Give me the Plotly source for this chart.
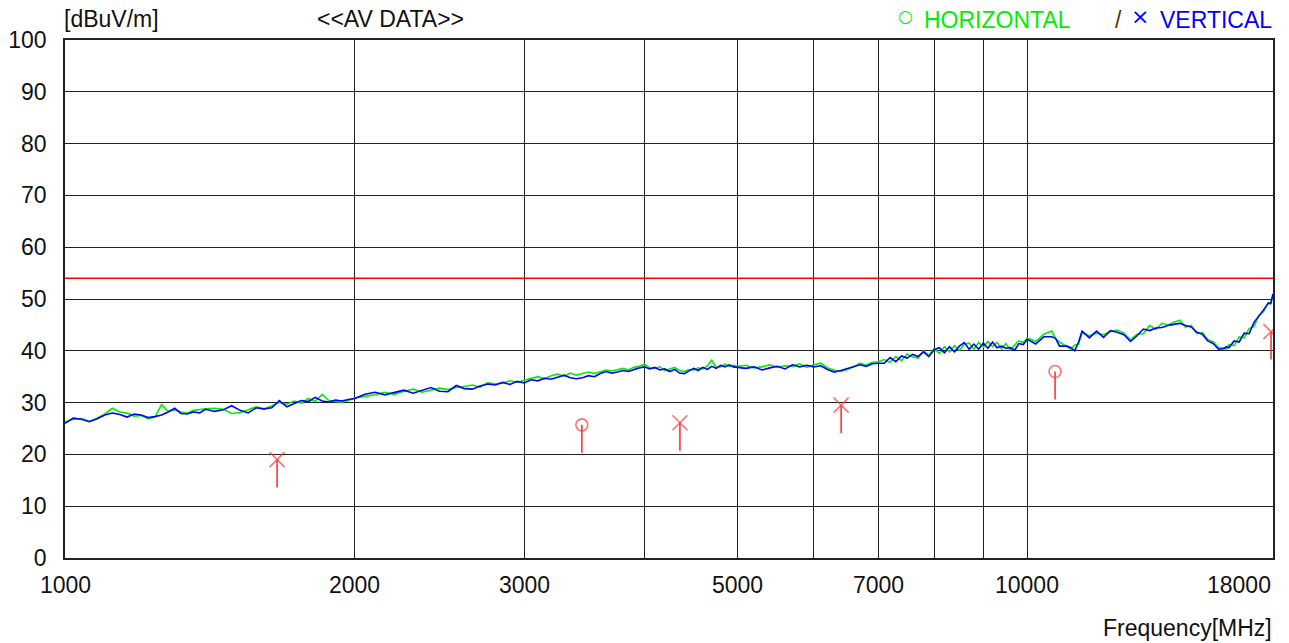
import math
import plotly.graph_objects as go

# ---------------- data ----------------
freq_mhz = [1000, 1020, 1040, 1060, 1080, 1100, 1120, 1140, 1160, 1180, 1200, 1220, 1240, 1260, 1280,
            1300, 1320, 1340, 1360, 1380, 1400, 1430, 1460, 1490, 1520, 1550, 1580, 1610, 1640, 1670,
            1700, 1730, 1760, 1790, 1820, 1850, 1880, 1910, 1940, 1970, 2000,
            2050, 2100, 2150, 2200, 2250, 2300, 2350, 2400, 2450, 2500, 2550, 2600, 2650, 2700, 2750,
            2800, 2850, 2900, 2950, 3000,
            3050, 3100, 3150, 3200, 3250, 3300, 3350, 3400, 3450, 3500, 3550, 3600, 3650, 3700, 3750,
            3800, 3850, 3900, 3950, 4000, 4050, 4100, 4150, 4200, 4250, 4300, 4350, 4400, 4450, 4500,
            4550, 4600, 4650, 4700, 4750, 4800, 4850, 4900, 4950, 5000,
            5100, 5200, 5300, 5400, 5500, 5600, 5700, 5800, 5900, 6000, 6100, 6200, 6300, 6400, 6500,
            6600, 6700, 6800, 6900, 7000,
            7100, 7200, 7300, 7400, 7500, 7600, 7700, 7800, 7900, 8000, 8100, 8200, 8300, 8400, 8500,
            8600, 8700, 8800, 8900, 9000, 9100, 9200, 9300, 9400, 9500, 9600, 9700, 9800, 9900, 10000,
            10200, 10400, 10600, 10700, 10800, 11000, 11100, 11200, 11300, 11400, 11600, 11800, 12000,
            12200, 12400, 12600, 12800, 13000, 13200, 13400, 13600, 13800, 14000, 14200, 14400, 14600,
            14800, 15000, 15200, 15400, 15600, 15800, 16000, 16100, 16200, 16400, 16600, 16800, 17000,
            17200, 17400, 17600, 17800, 17900, 18000]

horizontal_dbuv = [26.3, 26.8, 26.9, 26.4, 27.0, 27.8, 28.9, 28.2, 28.0, 27.4, 27.5, 26.9, 27.2, 29.6, 28.3,
                   28.6, 28.2, 28.0, 28.5, 28.7, 28.8, 28.9, 28.7, 27.9, 28.1, 28.6, 29.2, 28.7, 29.4, 30.0,
                   29.7, 30.3, 29.9, 30.8, 30.2, 31.6, 30.4, 30.3, 30.1, 30.4, 30.9,
                   31.2, 31.5, 32.0, 31.6, 32.2, 32.6, 32.0, 32.4, 32.8, 32.5, 32.9, 33.1, 33.4, 33.0, 33.8,
                   33.6, 33.8, 34.2, 33.9, 34.3,
                   34.6, 35.0, 34.6, 35.2, 35.5, 35.1, 35.7, 35.3, 35.6, 35.9, 35.6, 36.0, 36.3, 36.1, 36.4,
                   36.6, 36.3, 36.8, 37.0, 37.4, 36.7, 36.6, 36.9, 36.2, 36.5, 36.8, 36.2, 36.0, 36.4, 36.3,
                   36.7, 36.5, 37.1, 38.2, 36.8, 36.9, 37.4, 37.0, 37.2, 37.0,
                   37.2, 36.7, 36.9, 37.3, 36.8, 37.1, 37.0, 37.5, 36.8, 37.3, 37.6, 36.7, 36.3, 36.0, 36.4,
                   36.9, 37.6, 37.2, 37.8, 37.9,
                   38.3, 37.8, 38.9, 38.1, 39.4, 38.8, 38.6, 40.0, 39.1, 40.4, 39.5, 40.8, 39.8, 41.0, 40.1,
                   41.2, 41.5, 40.3, 41.6, 40.7, 41.8, 40.8, 41.6, 40.4, 41.4, 40.2, 41.1, 41.9, 41.6, 42.5,
                   41.8, 43.2, 43.8, 42.3, 41.7, 40.7, 40.3, 41.1, 41.3, 43.5, 42.9, 43.4, 43.1,
                   43.7, 44.0, 43.4, 42.1, 43.2, 43.3, 44.9, 44.1, 45.3, 45.0, 45.5, 45.9, 44.6,
                   44.9, 43.3, 43.5, 42.2, 41.7, 40.6, 40.6, 40.3, 41.2, 41.0, 42.7, 42.5, 44.3,
                   44.7, 46.8, 47.6, 49.3, 49.1, 50.6]

vertical_dbuv = [26.0, 27.0, 26.8, 26.3, 26.9, 27.6, 28.0, 27.7, 27.2, 27.8, 27.6, 27.1, 27.3, 27.6, 28.2,
                 28.9, 27.9, 27.8, 28.2, 28.0, 28.7, 28.3, 28.6, 29.4, 28.5, 28.0, 29.0, 28.8, 29.0, 30.4,
                 29.2, 29.8, 30.4, 30.2, 31.0, 30.3, 30.1, 30.5, 30.3, 30.6, 30.8,
                 31.6, 32.0, 31.5, 31.9, 32.4, 31.8, 32.3, 32.9, 32.2, 32.1, 33.3, 32.7, 32.6, 33.2, 33.6,
                 33.4, 33.9, 33.5, 34.1, 33.8,
                 34.4, 34.2, 34.7, 34.5, 34.9, 35.3, 34.8, 34.6, 34.8, 35.2, 35.0, 35.6, 36.0, 35.7, 35.9,
                 36.2, 36.0, 36.4, 36.7, 36.9, 36.5, 36.8, 36.3, 36.5, 36.0, 36.4, 35.7, 35.6, 36.1, 36.6,
                 36.2, 36.8, 36.4, 37.0, 36.6, 37.2, 36.9, 37.3, 36.9, 36.8,
                 36.6, 36.9, 36.3, 36.7, 37.0, 36.5, 37.3, 36.9, 37.2, 36.9, 37.1, 36.4, 35.9, 36.2, 36.6,
                 37.0, 37.3, 37.0, 37.5, 37.6,
                 37.6, 38.7, 37.9, 39.0, 38.6, 39.3, 38.9, 39.8, 38.9, 40.2, 40.6, 39.6, 40.8, 39.8, 40.9,
                 41.6, 40.3, 41.3, 40.3, 41.5, 40.5, 41.7, 40.6, 40.9, 40.5, 40.6, 40.1, 41.4, 41.2, 42.2,
                 41.3, 42.7, 42.7, 42.4, 40.9, 40.9, 40.6, 40.0, 41.6, 43.8, 42.5, 43.8, 42.6,
                 43.9, 43.6, 43.1, 41.8, 42.9, 44.2, 43.9, 44.4, 44.5, 44.9, 45.1, 45.3, 44.9,
                 44.6, 43.6, 43.2, 41.9, 41.4, 40.3, 40.4, 40.8, 40.6, 41.9, 41.7, 43.4, 43.3,
                 45.5, 46.6, 47.9, 49.2, 49.1, 51.0]

limit_dbuv = 54.0

peak_freq_mhz = [1661, 3444, 4355, 6405, 10686, 17915]
peak_dbuv = [19.0, 25.7, 26.1, 29.5, 36.0, 43.7]
peak_pol = ["V", "H", "V", "V", "H", "V"]
peak_stem = 5.4

x_tick_vals = [1000, 2000, 3000, 5000, 7000, 10000, 18000]
x_tick_text = ["1000", "2000", "3000", "5000", "7000", "10000", "18000"]
x_grid_vals = [1000, 2000, 3000, 4000, 5000, 6000, 7000, 8000, 9000, 10000, 18000]
y_tick_vals = [0, 10, 20, 30, 40, 50, 60, 70, 80, 90, 100]

# ---------------- figure ----------------
FONT = "Liberation Sans, Arial, sans-serif"
FS = 23
GREEN = "#00ee00"
BLUE = "#0000ff"
RED = "#ff0000"

W, H = 1289, 643
ML, MR, MT, MB = 65, 16, 40, 85
PW, PH = W - ML - MR, H - MT - MB


def px_x(px):
    return (px - ML) / PW


def px_y(py):
    return (H - MB - py) / PH


fig = go.Figure()

fig.add_trace(go.Scatter(x=[freq_mhz[0], freq_mhz[-1]], y=[limit_dbuv, limit_dbuv], mode="lines",
                         line=dict(color=RED, width=1.5), hoverinfo="skip", showlegend=False))

fig.add_trace(go.Scatter(x=freq_mhz, y=horizontal_dbuv, mode="lines",
                         line=dict(color=GREEN, width=1.6), name="HORIZONTAL", showlegend=False))
fig.add_trace(go.Scatter(x=freq_mhz, y=vertical_dbuv, mode="lines",
                         line=dict(color=BLUE, width=1.6), name="VERTICAL", showlegend=False))

# stems
sx, sy = [], []
for f, v in zip(peak_freq_mhz, peak_dbuv):
    sx += [f, f, None]
    sy += [v, v - peak_stem, None]
fig.add_trace(go.Scatter(x=sx, y=sy, mode="lines", line=dict(color="#ff3333", width=1.6),
                         hoverinfo="skip", showlegend=False))

symbols = ["circle-open" if p == "H" else "x-thin-open" for p in peak_pol]
sizes = [12 if p == "H" else 15 for p in peak_pol]
fig.add_trace(go.Scatter(x=peak_freq_mhz, y=peak_dbuv, mode="markers",
                         marker=dict(symbol=symbols, size=sizes, color="#ff3333",
                                     line=dict(color="#ff3333", width=1.6)),
                         showlegend=False))

annotations = []
for v, t in zip(x_tick_vals, x_tick_text):
    anchor = "right" if v == x_tick_vals[-1] else "center"
    annotations.append(dict(x=math.log10(v), xref="x", y=0, yref="paper", yshift=-27,
                            text=t, showarrow=False, xanchor=anchor, yanchor="middle",
                            font=dict(family=FONT, size=FS, color="#111")))

annotations += [
    dict(x=px_x(1274), y=px_y(628), xref="paper", yref="paper", text="Frequency[MHz]",
         showarrow=False, xanchor="right", yanchor="middle", font=dict(family=FONT, size=FS, color="#111")),
    dict(x=px_x(62), y=px_y(19), xref="paper", yref="paper", text="[dBuV/m]",
         showarrow=False, xanchor="left", yanchor="middle", font=dict(family=FONT, size=FS, color="#111")),
    dict(x=px_x(390), y=px_y(19), xref="paper", yref="paper", text="&lt;&lt;AV DATA&gt;&gt;",
         showarrow=False, xanchor="center", yanchor="middle", font=dict(family=FONT, size=FS, color="#111")),
    dict(x=px_x(905), y=px_y(16), xref="paper", yref="paper", text="○",
         showarrow=False, xanchor="center", yanchor="middle", font=dict(family="DejaVu Sans", size=17, color=GREEN)),
    dict(x=px_x(922), y=px_y(20), xref="paper", yref="paper", text="HORIZONTAL",
         showarrow=False, xanchor="left", yanchor="middle", font=dict(family=FONT, size=FS, color=GREEN)),
    dict(x=px_x(1118), y=px_y(20), xref="paper", yref="paper", text="/",
         showarrow=False, xanchor="center", yanchor="middle", font=dict(family=FONT, size=FS, color="#553300")),
    dict(x=px_x(1140), y=px_y(16), xref="paper", yref="paper", text="×",
         showarrow=False, xanchor="center", yanchor="middle", font=dict(family="DejaVu Sans", size=22, color=BLUE)),
    dict(x=px_x(1274), y=px_y(20), xref="paper", yref="paper", text="VERTICAL",
         showarrow=False, xanchor="right", yanchor="middle", font=dict(family=FONT, size=FS, color=BLUE)),
]

fig.update_layout(
    width=W, height=H,
    margin=dict(l=ML, r=MR, t=MT, b=MB, pad=0, autoexpand=False),
    paper_bgcolor="white", plot_bgcolor="white",
    font=dict(family=FONT, size=FS, color="#111"),
    annotations=annotations,
    showlegend=False,
)
fig.update_xaxes(type="log", range=[math.log10(1000), math.log10(18000)],
                 tickvals=x_grid_vals, showticklabels=False, ticks="", automargin=False,
                 showgrid=True, gridcolor="#222", gridwidth=1,
                 showline=True, linecolor="#222", linewidth=1.5, mirror=True, zeroline=False)
fig.update_yaxes(range=[0, 100], tickvals=y_tick_vals, ticks="", ticklabelstandoff=12, automargin=False,
                 showgrid=True, gridcolor="#222", gridwidth=1,
                 showline=True, linecolor="#222", linewidth=1.5, mirror=True, zeroline=False,
                 tickfont=dict(family=FONT, size=FS, color="#111"))

fig.write_html("out.html")
